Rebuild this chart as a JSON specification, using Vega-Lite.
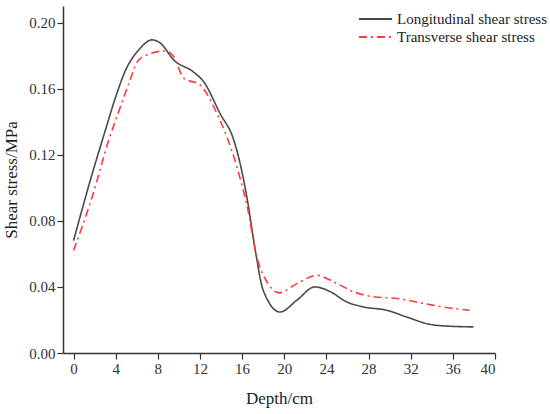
{
  "$schema": "https://vega.github.io/schema/vega-lite/v6.json",
  "width": 432,
  "height": 347,
  "autosize": "none",
  "padding": {"left": 63, "top": 6, "right": 55, "bottom": 61},
  "background": "white",
  "config": {
    "view": {"stroke": null},
    "font": "Liberation Serif",
    "axis": {"grid": false, "domainColor": "#333", "tickColor": "#333", "domainWidth": 1.5, "tickWidth": 1.2, "labelColor": "#333", "titleColor": "#222", "labelFont": "Liberation Serif", "titleFont": "Liberation Serif", "labelFontSize": 15, "titleFontSize": 17, "titleFontWeight": "normal", "tickSize": 6}
  },
  "data": {"values": [
    {"depth": 0, "stress": 0.068, "series": "Longitudinal shear stress"},
    {"depth": 1.6, "stress": 0.1047, "series": "Longitudinal shear stress"},
    {"depth": 3.03, "stress": 0.135, "series": "Longitudinal shear stress"},
    {"depth": 4.0, "stress": 0.155, "series": "Longitudinal shear stress"},
    {"depth": 4.93, "stress": 0.171, "series": "Longitudinal shear stress"},
    {"depth": 6.2, "stress": 0.1835, "series": "Longitudinal shear stress"},
    {"depth": 7.46, "stress": 0.1895, "series": "Longitudinal shear stress"},
    {"depth": 8.25, "stress": 0.1875, "series": "Longitudinal shear stress"},
    {"depth": 9.5, "stress": 0.1774, "series": "Longitudinal shear stress"},
    {"depth": 11.4, "stress": 0.170, "series": "Longitudinal shear stress"},
    {"depth": 12.35, "stress": 0.1642, "series": "Longitudinal shear stress"},
    {"depth": 13.9, "stress": 0.145, "series": "Longitudinal shear stress"},
    {"depth": 15.2, "stress": 0.129, "series": "Longitudinal shear stress"},
    {"depth": 15.8, "stress": 0.115, "series": "Longitudinal shear stress"},
    {"depth": 16.5, "stress": 0.0925, "series": "Longitudinal shear stress"},
    {"depth": 17.25, "stress": 0.0622, "series": "Longitudinal shear stress"},
    {"depth": 18.0, "stress": 0.038, "series": "Longitudinal shear stress"},
    {"depth": 19.6, "stress": 0.0248, "series": "Longitudinal shear stress"},
    {"depth": 21.2, "stress": 0.032, "series": "Longitudinal shear stress"},
    {"depth": 22.9, "stress": 0.040, "series": "Longitudinal shear stress"},
    {"depth": 24.4, "stress": 0.037, "series": "Longitudinal shear stress"},
    {"depth": 25.9, "stress": 0.031, "series": "Longitudinal shear stress"},
    {"depth": 27.5, "stress": 0.0279, "series": "Longitudinal shear stress"},
    {"depth": 29.7, "stress": 0.0259, "series": "Longitudinal shear stress"},
    {"depth": 31.6, "stress": 0.0218, "series": "Longitudinal shear stress"},
    {"depth": 33.8, "stress": 0.0174, "series": "Longitudinal shear stress"},
    {"depth": 35.7, "stress": 0.0162, "series": "Longitudinal shear stress"},
    {"depth": 37.95, "stress": 0.0158, "series": "Longitudinal shear stress"},
    {"depth": 0, "stress": 0.062, "series": "Transverse shear stress"},
    {"depth": 1.77, "stress": 0.0945, "series": "Transverse shear stress"},
    {"depth": 3.35, "stress": 0.129, "series": "Transverse shear stress"},
    {"depth": 4.45, "stress": 0.149, "series": "Transverse shear stress"},
    {"depth": 5.24, "stress": 0.163, "series": "Transverse shear stress"},
    {"depth": 6.04, "stress": 0.176, "series": "Transverse shear stress"},
    {"depth": 6.82, "stress": 0.180, "series": "Transverse shear stress"},
    {"depth": 8.7, "stress": 0.1828, "series": "Transverse shear stress"},
    {"depth": 9.5, "stress": 0.1794, "series": "Transverse shear stress"},
    {"depth": 10.45, "stress": 0.1663, "series": "Transverse shear stress"},
    {"depth": 12.0, "stress": 0.1622, "series": "Transverse shear stress"},
    {"depth": 13.6, "stress": 0.145, "series": "Transverse shear stress"},
    {"depth": 15.5, "stress": 0.1127, "series": "Transverse shear stress"},
    {"depth": 16.5, "stress": 0.088, "series": "Transverse shear stress"},
    {"depth": 17.4, "stress": 0.058, "series": "Transverse shear stress"},
    {"depth": 18.36, "stress": 0.043, "series": "Transverse shear stress"},
    {"depth": 19.5, "stress": 0.0364, "series": "Transverse shear stress"},
    {"depth": 21.2, "stress": 0.042, "series": "Transverse shear stress"},
    {"depth": 23.1, "stress": 0.047, "series": "Transverse shear stress"},
    {"depth": 24.7, "stress": 0.043, "series": "Transverse shear stress"},
    {"depth": 26.6, "stress": 0.037, "series": "Transverse shear stress"},
    {"depth": 28.5, "stress": 0.034, "series": "Transverse shear stress"},
    {"depth": 30.7, "stress": 0.033, "series": "Transverse shear stress"},
    {"depth": 33.2, "stress": 0.030, "series": "Transverse shear stress"},
    {"depth": 35.4, "stress": 0.0275, "series": "Transverse shear stress"},
    {"depth": 37.6, "stress": 0.0259, "series": "Transverse shear stress"}
  ]},
  "mark": {"type": "line", "interpolate": "monotone", "strokeWidth": 1.6},
  "encoding": {
    "x": {"field": "depth", "type": "quantitative", "title": "Depth/cm",
      "scale": {"domain": [-1, 40], "nice": false, "zero": false},
      "axis": {"values": [0, 4, 8, 12, 16, 20, 24, 28, 32, 36, 40], "titlePadding": 14}},
    "y": {"field": "stress", "type": "quantitative", "title": "Shear stress/MPa",
      "scale": {"domain": [0, 0.21], "nice": false},
      "axis": {"values": [0, 0.04, 0.08, 0.12, 0.16, 0.2], "format": ".2f", "titlePadding": 8}},
    "color": {"field": "series", "type": "nominal",
      "scale": {"domain": ["Longitudinal shear stress", "Transverse shear stress"], "range": ["#4a4a4a", "#ff3b3b"]},
      "legend": {"title": null, "orient": "none", "legendX": 295, "legendY": 4, "symbolType": "stroke", "symbolSize": 1100, "symbolStrokeWidth": 1.8, "labelFontSize": 15, "labelFont": "Liberation Serif", "labelColor": "#222", "rowPadding": 0, "clipHeight": 18, "labelOffset": 4}},
    "strokeDash": {"field": "series", "type": "nominal",
      "scale": {"domain": ["Longitudinal shear stress", "Transverse shear stress"], "range": [[1, 0], [8, 4, 2, 4]]},
      "legend": null}
  }
}
